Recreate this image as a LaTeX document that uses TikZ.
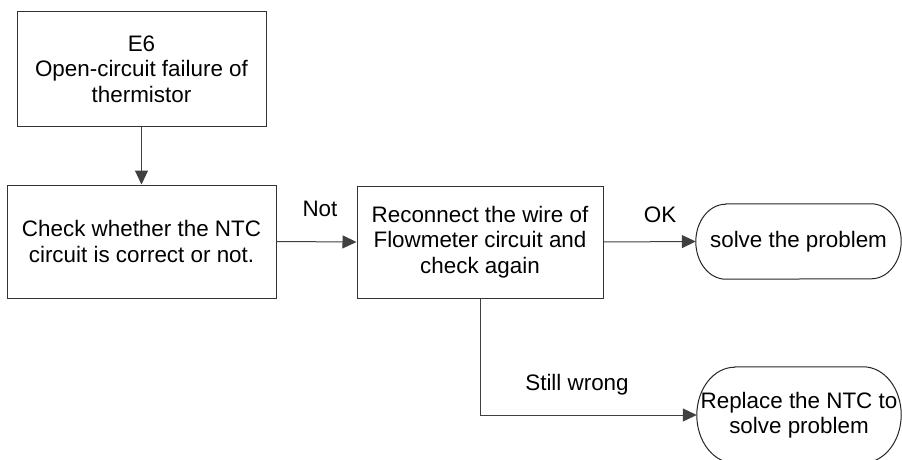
\documentclass[tikz,border=0pt]{standalone}
\usepackage{fontspec}
\setmainfont{Liberation Sans}
\usetikzlibrary{arrows.meta}
\newcommand\drawTerm[3]{%
  \draw[termline] ([xshift=#2]#1.north west) -- ([xshift=-#2]#1.north east)
    arc[start angle=90,end angle=-90,x radius=#2,y radius=#3]
    -- ([xshift=#2]#1.south west)
    arc[start angle=270,end angle=90,x radius=#2,y radius=#3] -- cycle;}
\begin{document}
\begin{tikzpicture}[x=1pt,y=1pt,
  every node/.style={font=\fontsize{22.4}{25.5}\selectfont, text=black},
  procbox/.style={draw=black!80, line width=1pt, fill=white, align=center, inner sep=0pt},
  termbox/.style={draw=none, align=center, inner sep=0pt},
  termline/.style={draw=black!85, line width=1pt},
  conn/.style={draw=black!75, line width=1pt, -{Triangle[length=14pt,width=13pt]}},
  lbl/.style={inner sep=0pt}]
\clip (0,0) rectangle (902,459);
\fill[white] (0,0) rectangle (902,459);
\node[procbox, minimum width=249pt, minimum height=114pt] (b1) at (141.5,390)
  {E6\\Open-circuit failure of\\thermistor};
\node[procbox, minimum width=269pt, minimum height=113pt] (b2) at (141.5,217.5)
  {Check whether the NTC\\circuit is correct or not.};
\node[procbox, minimum width=246pt, minimum height=112pt] (b3) at (480,217)
  {Reconnect the wire of\\Flowmeter circuit and\\check again};
\node[termbox, minimum width=205pt, minimum height=75pt] (t1) at (798.5,217.5)
  {solve the problem};
\node[termbox, minimum width=204pt, minimum height=96pt] (t2) at (799,44)
  {Replace the NTC to\\solve problem};
\drawTerm{t1}{30pt}{37.5pt}
\drawTerm{t2}{38pt}{48pt}
\draw[conn] (b1.south) -- (b2.north);
\draw[conn] (b2.east) -- (b3.west);
\draw[conn] (b3.east) -- (t1.west);
\draw[conn] (b3.south) |- (t2.west);
\node[lbl] (lnot) at (320,250) {Not};
\node[lbl] (lok) at (660,244) {OK};
\node[lbl] (lsw) at (577,74) {Still wrong};
\end{tikzpicture}
\end{document}
